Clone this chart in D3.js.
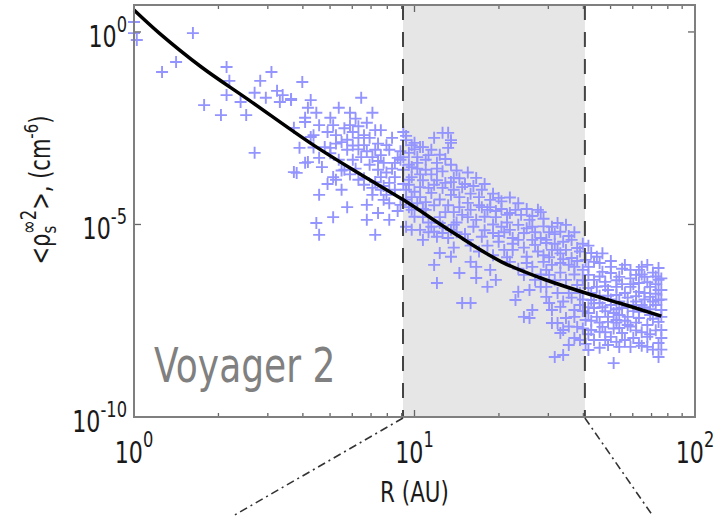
<!DOCTYPE html>
<html>
<head>
<meta charset="utf-8">
<script src="https://cdn.jsdelivr.net/npm/d3@7"></script>
<style>
  body { margin: 0; background: #fff; }
  svg text { font-family: "DejaVu Sans", sans-serif; }
</style>
</head>
<body>
<svg id="chart" width="720" height="516"></svg>
<script>
// fitted curve: log10 R (AU) and log10 <rho^2> (cm^-6)
const fitLogR   = [0, 0.09, 0.24, 0.41, 0.64, 0.81, 0.96, 1.14, 1.31, 1.45, 1.61, 1.73, 1.88];
const fitLogRho = [0.57, -0.03, -0.91, -1.77, -2.94, -3.71, -4.36, -5.22, -5.97, -6.39, -6.78, -7.04, -7.38];

// Voyager 2 samples [log10 R, log10 <rho^2>]
const samples = [
  [0.00,0.26],[0.00,-0.03],[0.01,-0.21],[0.21,-0.03],[0.10,-1.04],[0.15,-0.78],[0.33,-0.91],[0.34,-1.27],
  [0.25,-1.90],[0.31,-2.16],[0.33,-1.64],[0.38,-1.82],[0.40,-2.16],[0.43,-1.58],[0.45,-1.27],[0.49,-1.04],
  [0.47,-1.71],[0.51,-1.53],[0.52,-1.82],[0.56,-1.74],[0.60,-1.30],[0.62,-1.97],[0.61,-2.23],[0.57,-2.49],
  [0.59,-3.01],[0.61,-3.40],[0.58,-3.66],[0.43,-3.14],[0.63,-2.73],
  [0.53,-1.64],[0.56,-1.77],[0.61,-2.34],[0.70,-2.23],[0.71,-2.42],[0.81,-1.71],[0.77,-2.10],[0.85,-2.10],
  [0.83,-2.36],[0.88,-2.55],[0.78,-2.60],[0.80,-2.75],[0.82,-2.68],[0.72,-2.68],[0.74,-2.86],[0.64,-2.68],
  [0.68,-2.99],[0.76,-3.06],[0.81,-3.25],[0.85,-3.25],[0.90,-2.94],[0.91,-3.06],[0.89,-3.40],[0.94,-3.27],
  [0.62,-3.38],[0.57,-3.64],[0.66,-3.27],[0.67,-3.51],[0.71,-3.77],[0.72,-3.84],[0.75,-3.58],[0.80,-3.84],
  [0.82,-3.97],[0.87,-3.58],[0.88,-3.77],[0.91,-3.92],[0.93,-3.77],[0.66,-4.23],[0.74,-4.10],[0.76,-4.55],
  [0.71,-4.81],[0.65,-4.96],[0.66,-5.27],[0.83,-4.49],[0.83,-4.88],[0.87,-4.70],[0.86,-5.27],[0.91,-4.88],
  [0.89,-4.36],[0.96,-2.60],[0.99,-2.94],[1.02,-2.99],[1.01,-3.25],[1.10,-2.62],[1.13,-2.81],[1.12,-3.01],
  [1.08,-3.40],[1.04,-3.58],[0.99,-3.51],[0.98,-3.84],[1.02,-4.03],[1.07,-3.97],[1.11,-3.92],[1.14,-3.79],
  [1.14,-4.10],[0.99,-4.29],[1.04,-4.42],[0.99,-4.62],[1.03,-4.81],[1.06,-5.06],[1.09,-4.96],[1.13,-5.14],
  [1.08,-5.32],[1.02,-5.14],[0.99,-5.14],
  [1.12,-2.62],[1.13,-2.88],[1.00,-2.88],[1.03,-2.99],[0.98,-3.14],[1.01,-3.40],[0.96,-3.58],[0.99,-3.77],
  [1.10,-4.05],[1.13,-3.90],[1.17,-4.03],[1.22,-3.79],[0.97,-4.10],[1.02,-4.29],[1.06,-4.18],[1.13,-4.23],
  [1.16,-4.29],[1.19,-4.44],[1.23,-4.29],[1.27,-4.36],[1.30,-4.31],[1.24,-4.55],[1.26,-4.62],[0.98,-4.55],
  [1.04,-4.62],[1.09,-4.81],[1.14,-4.68],[1.19,-4.81],[1.22,-4.88],[1.29,-4.81],[1.34,-4.70],[1.36,-4.62],
  [1.41,-4.88],[1.44,-4.62],[1.49,-5.06],[0.97,-5.06],[1.03,-5.40],[1.07,-5.19],[1.10,-5.22],[1.14,-5.01],
  [1.21,-5.06],[1.24,-5.32],[1.28,-5.22],[1.31,-5.06],[1.34,-5.14],[1.37,-5.01],[1.39,-5.22],[1.42,-5.06],
  [1.45,-5.35],[1.47,-5.48],[1.51,-5.66],[1.09,-5.74],[1.07,-6.05],[1.13,-5.84],[1.16,-6.26],[1.20,-5.97],
  [1.22,-6.10],[1.22,-6.39],[1.27,-6.18],[1.29,-6.44],[1.26,-6.62],[1.08,-6.52],[1.17,-7.04],[1.20,-7.04],
  [1.35,-5.66],[1.40,-5.84],[1.42,-6.10],[1.37,-6.75],[1.45,-6.62],[1.47,-6.88],[1.42,-7.22],[1.41,-7.43],
  [1.49,-7.22],[1.51,-7.56],[1.39,-7.40],
  [1.51,-4.96],[1.54,-5.01],[1.52,-5.19],[1.56,-5.40],[1.47,-5.40],[1.49,-5.66],[1.54,-5.66],[1.58,-5.61],
  [1.63,-5.74],[1.65,-5.84],[1.64,-5.97],[1.46,-5.97],[1.52,-6.00],[1.57,-6.10],[1.60,-6.18],[1.62,-6.31],
  [1.67,-6.23],[1.70,-6.26],[1.73,-6.36],[1.79,-6.31],[1.82,-6.36],[1.87,-6.44],[1.80,-6.52],[1.84,-6.62],
  [1.87,-6.70],[1.77,-6.62],[1.72,-6.62],[1.69,-6.70],[1.65,-6.62],[1.47,-6.62],[1.51,-6.78],[1.55,-6.78],
  [1.59,-6.78],[1.63,-6.96],[1.66,-7.04],[1.70,-7.09],[1.74,-7.17],[1.78,-7.09],[1.81,-7.09],[1.86,-7.09],
  [1.87,-6.96],[1.48,-7.04],[1.52,-7.14],[1.57,-7.22],[1.62,-7.30],[1.65,-7.40],[1.69,-7.53],[1.72,-7.48],
  [1.76,-7.40],[1.80,-7.43],[1.84,-7.35],[1.87,-7.53],[1.49,-7.56],[1.53,-7.74],[1.58,-7.66],[1.63,-7.74],
  [1.66,-7.79],[1.70,-7.92],[1.74,-7.82],[1.78,-7.95],[1.83,-7.92],[1.87,-8.08],[1.80,-8.08],[1.52,-7.82],
  [1.50,-8.44],[1.53,-8.39],[1.62,-8.26],[1.71,-8.60],[1.87,-8.44],[1.83,-8.18],[1.73,-8.18],[1.77,-8.18],
  [1.69,-8.13],[1.70,-6.10],[1.83,-6.05],[1.87,-6.13],[1.80,-6.18],[1.77,-6.18],[1.45,-4.68],
  [1.64,-6.44],[1.68,-6.49],[1.72,-6.83],[1.75,-6.78],[1.79,-6.86],[1.82,-6.78],[1.84,-6.88],[1.88,-7.22],
  [1.76,-7.61],[1.71,-7.30],[1.67,-7.66],[1.61,-7.48],[1.54,-7.43],[1.59,-7.09],[1.64,-7.17],[1.80,-7.27],
  [1.83,-7.61],[1.73,-7.69],[1.64,-8.00],[1.59,-8.00],[1.55,-8.13],[1.88,-7.74],[1.88,-6.70],[1.43,-6.44],
  [1.39,-6.31],[1.34,-5.97],[1.37,-5.40],[1.43,-5.53],[1.32,-5.66],[1.47,-6.18],[1.54,-6.44],[1.58,-6.57],
  [1.61,-5.92],[1.56,-5.87],[1.48,-6.31],[1.41,-6.70],[1.36,-6.96],
  [0.97,-2.81],[1.06,-3.06],[1.09,-3.19],[1.04,-3.32],[0.95,-3.32],[0.98,-3.97],[0.93,-4.10],[0.95,-4.49],
  [0.90,-4.23],[0.88,-4.10],[0.85,-4.23],[0.86,-3.06],[0.82,-2.94],[0.78,-3.32],[0.73,-3.32],[0.70,-3.01],
  [0.77,-2.42],[0.66,-2.42],[0.63,-1.77],[0.73,-1.97],
  [0.97,-2.70],[1.00,-3.05],[1.05,-3.20],[1.08,-3.55],[1.11,-3.30],[1.15,-3.60],[1.18,-3.95],[1.02,-3.70],
  [0.96,-3.95],[1.00,-4.15],[1.05,-4.05],[1.09,-4.35],[1.12,-4.50],[1.16,-4.55],[1.20,-4.20],[1.24,-4.10],
  [1.27,-4.55],[1.31,-4.60],[1.33,-4.95],[1.28,-5.00],[1.25,-4.80],[1.18,-5.25],[1.12,-5.35],[1.05,-4.95],
  [1.00,-4.80],[0.94,-4.65],[0.92,-3.55],[0.88,-3.20],[0.95,-3.10],[1.07,-2.75],
  [1.38,-4.75],[1.40,-5.10],[1.43,-5.20],[1.46,-5.05],[1.50,-5.25],[1.53,-5.45],[1.57,-5.20],[1.60,-5.50],
  [1.44,-5.70],[1.48,-5.85],[1.52,-5.75],[1.55,-6.05],[1.58,-5.95],[1.62,-6.10],[1.35,-5.35],[1.32,-5.20],
  [1.30,-5.45],[1.26,-5.55],[1.23,-5.70],[1.40,-6.00],[1.50,-6.45],[1.45,-6.30],
  [1.66,-6.00],[1.70,-5.95],[1.74,-6.15],[1.77,-6.40],[1.81,-6.30],[1.85,-6.25],[1.68,-6.60],[1.74,-6.55],
  [1.80,-6.75],[1.86,-6.55],[1.62,-6.65],[1.66,-6.85],[1.70,-6.95],[1.76,-6.90],[1.82,-6.95],[1.86,-6.80],
  [1.64,-7.05],[1.68,-7.25],[1.73,-7.35],[1.78,-7.25],[1.84,-7.20],[1.60,-7.25],[1.66,-7.55],[1.71,-7.70],
  [1.77,-7.65],[1.81,-7.80],[1.86,-7.75],[1.62,-7.85],[1.68,-8.00],[1.75,-8.00],[1.85,-8.25],[1.57,-7.95],
  [1.56,-6.90],[1.53,-7.00],[1.60,-6.95],
  [0.65,-2.10],[0.69,-2.60],[0.75,-2.50],[0.79,-2.25],[0.84,-2.75],[0.87,-2.90],[0.78,-2.95],[0.70,-3.15],
  [0.64,-3.00],[0.74,-3.60],[0.79,-3.55],[0.84,-3.45],[0.86,-3.90],[0.69,-3.95],
  [0.96,-3.25],[0.98,-3.45],[1.01,-3.55],[1.03,-3.85],[1.06,-3.70],[1.08,-3.85],[1.10,-3.62],[1.13,-3.45],
  [1.16,-3.80],[1.19,-3.65],[1.21,-4.00],[1.25,-3.95],[1.28,-4.20],[1.31,-4.40],[1.34,-4.30],[1.37,-4.45],
  [1.40,-4.60],[1.42,-4.78],[1.46,-4.85],[1.33,-4.75],[1.29,-4.65],[1.23,-4.50],[1.20,-4.62],[1.17,-4.75],
  [1.15,-4.95],[1.11,-4.68],[1.07,-4.50],[1.03,-4.60],[1.01,-4.45],[0.97,-4.35],[1.05,-5.20],[1.10,-5.05],
  [1.15,-5.20],[1.19,-5.40],[1.25,-5.15],[1.30,-5.30],[1.35,-5.50],[1.39,-5.60],[1.42,-5.40],[1.20,-5.55],
  [1.14,-5.60],[1.28,-5.80],[1.33,-5.85],[1.37,-6.15],
  [0.76,-2.80],[0.80,-3.05],[0.83,-3.10],[0.87,-3.35],[0.90,-3.65],[0.93,-3.40],[0.92,-2.75],[0.86,-2.55],
  [0.80,-2.45],[0.72,-2.90],[0.77,-3.70],[0.82,-3.80],[0.85,-4.05],[0.89,-4.00],[0.91,-4.45],
  [1.48,-5.20],[1.55,-5.30],[1.59,-5.70],[1.62,-5.55],[1.67,-5.75],[1.50,-5.50],[1.46,-5.80],[1.53,-5.90],
  [1.57,-6.30],[1.60,-6.45],[1.52,-6.25],[1.49,-6.05],[1.66,-6.35],[1.72,-6.45],[1.78,-6.55],[1.83,-6.50],
  [1.88,-6.40],[1.75,-6.05],[1.81,-6.10],[1.86,-6.35],[1.63,-6.78],[1.69,-6.85],[1.73,-7.00],[1.79,-7.00],
  [1.85,-7.00],[1.88,-6.95],[1.67,-7.15],[1.72,-7.20],[1.76,-7.15],[1.82,-7.15],[1.62,-7.15],[1.57,-7.40],
  [1.63,-7.50],[1.69,-7.40],[1.75,-7.50],[1.79,-7.55],[1.85,-7.45],[1.88,-7.40],[1.55,-7.65],[1.60,-7.70],
  [1.68,-7.80],[1.72,-7.55],[1.79,-7.75],[1.84,-7.85],[1.88,-7.95],[1.61,-8.10],[1.66,-8.20],[1.72,-8.05],
  [1.81,-8.15],[1.88,-8.25]
];

const xTicks = [1, 10, 100];
const xTickExp = ["0", "1", "2"];
const yTicks = [1, 1e-5, 1e-10];
const yTickExp = ["0", "-5", "-10"];
const zoneR = [9.1, 40.5];   // shaded range, AU

const margin = {top: 5, left: 134, right: 25, bottom: 99};
const width = 720, height = 516;

const svg = d3.select('#chart');

const x = d3.scaleLog().domain([1, 100]).range([margin.left, width - margin.right]);
const y = d3.scaleLog().domain([1e-10, Math.pow(10, 0.7)]).range([height - margin.bottom, margin.top]);

const x0 = x.range()[0], x1 = x.range()[1];
const yB = y.range()[0], yT = y.range()[1];

// shaded zone
svg.append('rect')
  .attr('x', x(zoneR[0]))
  .attr('y', yT)
  .attr('width', x(zoneR[1]) - x(zoneR[0]))
  .attr('height', yB - yT)
  .attr('fill', '#e6e6e6');

// scatter
svg.append('g')
  .selectAll('path')
  .data(samples)
  .join('path')
  .attr('transform', d => `translate(${x(Math.pow(10, d[0]))},${y(Math.pow(10, d[1]))})`)
  .attr('d', 'M-6,0H6M0,-6V6')
  .attr('stroke', '#9494ff')
  .attr('stroke-width', 1.9)
  .attr('fill', 'none');

// dashed zone edges
svg.append('g')
  .selectAll('line')
  .data(zoneR)
  .join('line')
  .attr('x1', d => x(d)).attr('x2', d => x(d))
  .attr('y1', yT).attr('y2', yB)
  .attr('stroke', '#444')
  .attr('stroke-width', 2)
  .attr('stroke-dasharray', '15,12');

// fit curve
const line = d3.line()
  .x(d => x(Math.pow(10, d[0])))
  .y(d => y(Math.pow(10, d[1])))
  .curve(d3.curveCatmullRom);

svg.append('path')
  .datum(fitLogR.map((r, i) => [r, fitLogRho[i]]))
  .attr('d', line)
  .attr('fill', 'none')
  .attr('stroke', '#000')
  .attr('stroke-width', 3.5);

// ticks (inside)
const minorX = [2,3,4,5,6,7,8,9,20,30,40,50,60,70,80,90];
const tickG = svg.append('g').attr('stroke', '#666').attr('stroke-width', 1.3);
minorX.forEach(v => {
  tickG.append('line').attr('x1', x(v)).attr('x2', x(v)).attr('y1', yB).attr('y2', yB - 4);
  tickG.append('line').attr('x1', x(v)).attr('x2', x(v)).attr('y1', yT).attr('y2', yT + 4);
});
xTicks.forEach(v => {
  tickG.append('line').attr('x1', x(v)).attr('x2', x(v)).attr('y1', yB).attr('y2', yB - 7);
  tickG.append('line').attr('x1', x(v)).attr('x2', x(v)).attr('y1', yT).attr('y2', yT + 7);
});
yTicks.forEach(v => {
  tickG.append('line').attr('x1', x0).attr('x2', x0 + 7).attr('y1', y(v)).attr('y2', y(v));
  tickG.append('line').attr('x1', x1).attr('x2', x1 - 7).attr('y1', y(v)).attr('y2', y(v));
});

// frame
svg.append('rect')
  .attr('x', x0).attr('y', yT)
  .attr('width', x1 - x0).attr('height', yB - yT)
  .attr('fill', 'none')
  .attr('stroke', '#7f7f7f')
  .attr('stroke-width', 2);

// tick labels
const xl = svg.append('g').selectAll('g')
  .data(xTicks)
  .join('g')
  .attr('transform', d => `translate(${x(d)},463) scale(0.74,1)`);
const xt = xl.append('text').attr('text-anchor', 'middle').attr('fill', '#1a1a1a');
xt.append('tspan').attr('font-size', 30).text('10');
xt.append('tspan').attr('font-size', 22).attr('dy', -16).text((d, i) => xTickExp[i]);

const yl = svg.append('g').selectAll('g')
  .data(yTicks)
  .join('g')
  .attr('transform', d => `translate(127,${y(d) + 15}) scale(0.74,1)`);
const yt = yl.append('text').attr('text-anchor', 'end').attr('fill', '#1a1a1a');
yt.append('tspan').attr('font-size', 30).text('10');
yt.append('tspan').attr('font-size', 22).attr('dy', -15).text((d, i) => yTickExp[i]);

// axis titles
svg.append('text')
  .attr('transform', `translate(${x(10)},502) scale(0.74,1)`)
  .attr('text-anchor', 'middle')
  .attr('font-size', 29)
  .attr('fill', '#1a1a1a')
  .text('R (AU)');

const ylab = svg.append('text')
  .attr('transform', 'translate(50,190) rotate(-90) scale(0.75,1)')
  .attr('text-anchor', 'middle')
  .attr('font-size', 28)
  .attr('fill', '#1a1a1a');
ylab.append('tspan').text('<ρ');
ylab.append('tspan').attr('font-size', 20).attr('dy', 6).text('s');
ylab.append('tspan').attr('font-size', 22).attr('dx', -11).attr('dy', -20).text('∞2');
ylab.append('tspan').attr('dy', 14).text('>, (cm');
ylab.append('tspan').attr('font-size', 20).attr('dy', -12).text('-6');
ylab.append('tspan').attr('dy', 12).text(')');

// panel label
svg.append('text')
  .attr('transform', 'translate(154,382) scale(0.75,1)')
  .attr('font-size', 48)
  .attr('fill', '#808080')
  .text('Voyager 2');

// dash-dot connectors to the next panel
const conn = [
  {from: zoneR[0], dx: -170, dy: 98},
  {from: zoneR[1], dx: 68, dy: 98}
];
svg.append('g')
  .selectAll('line')
  .data(conn)
  .join('line')
  .attr('x1', d => x(d.from)).attr('y1', yB + 1)
  .attr('x2', d => x(d.from) + d.dx)
  .attr('y2', d => yB + 1 + d.dy)
  .attr('stroke', '#333')
  .attr('stroke-width', 1.6)
  .attr('stroke-dasharray', '8,4,2,4');
</script>
</body>
</html>
